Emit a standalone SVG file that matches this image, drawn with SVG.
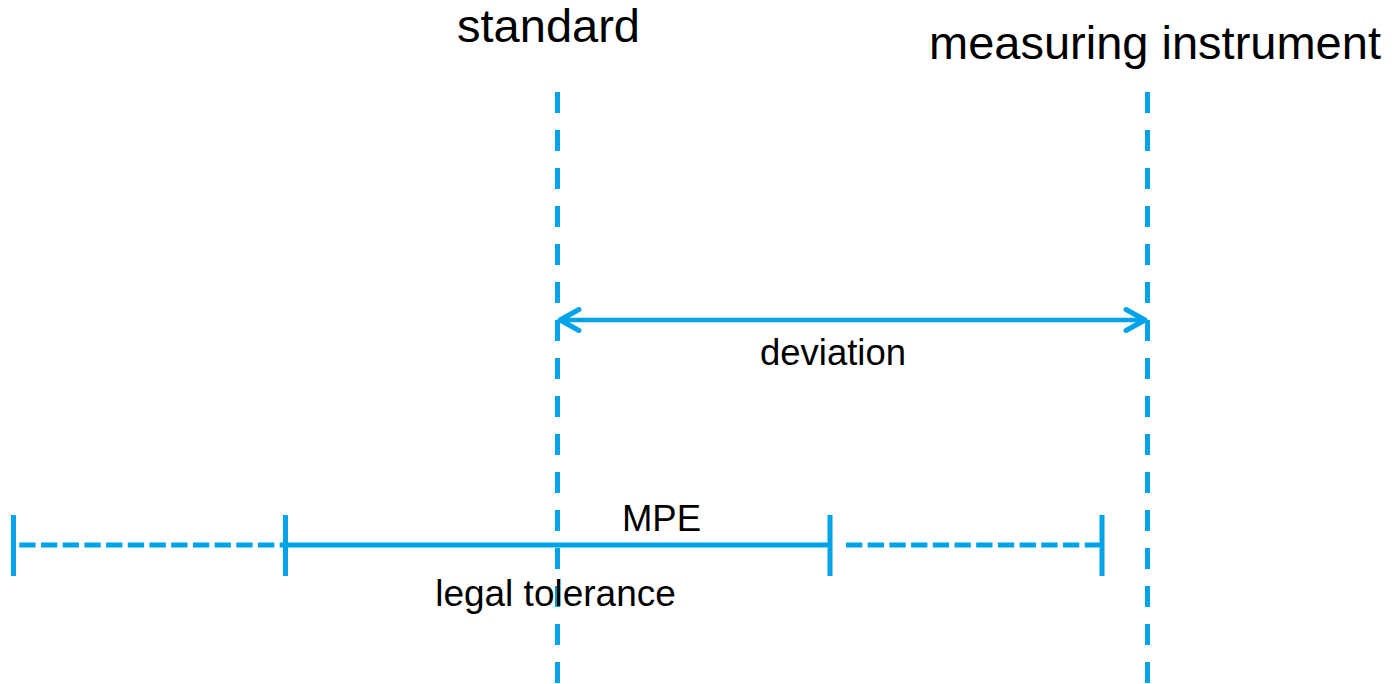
<svg xmlns="http://www.w3.org/2000/svg" width="1394" height="684" viewBox="0 0 1394 684">
<style>
.t{font-family:"Liberation Sans",Arial,sans-serif;fill:#000;text-anchor:middle}
.big{font-size:47px}
.small{font-size:36.5px}
.ln{stroke:#00A3E8;stroke-width:5;fill:none}
.vd{stroke-dasharray:21 17}
.hd{stroke-dasharray:16.3 5.4}
</style>
<rect width="1394" height="684" fill="#fff"/>
<g id="standard">
<line class="ln vd" x1="557.5" y1="92" x2="557.5" y2="684"/>
<text class="t big" x="548.5" y="42">standard</text>
</g>
<g id="measuring-instrument">
<line class="ln vd" x1="1147.5" y1="92" x2="1147.5" y2="684"/>
<text class="t big" x="1155" y="59">measuring instrument</text>
</g>
<g id="connectors">
<g id="deviation">
<line class="ln" x1="560" y1="320" x2="1145" y2="320" style="stroke-width:4.5"/>
<polyline class="ln" points="579,309.5 560,320 579,330.5" stroke-linecap="round" stroke-linejoin="round"/>
<polyline class="ln" points="1126,309.5 1145,320 1126,330.5" stroke-linecap="round" stroke-linejoin="round"/>
</g>
<g id="tolerance">
<line class="ln hd" x1="19.3" y1="545" x2="286" y2="545"/>
<line class="ln" x1="286" y1="545" x2="830" y2="545"/>
<line class="ln hd" x1="846" y1="545" x2="1102" y2="545"/>
<line class="ln" x1="13.5" y1="515" x2="13.5" y2="576"/>
<line class="ln" x1="285.5" y1="515" x2="285.5" y2="576"/>
<line class="ln" x1="830" y1="515" x2="830" y2="576"/>
<line class="ln" x1="1102" y1="515" x2="1102" y2="576"/>
</g>
</g>
<g id="labels">
<text class="t small" x="833" y="365">deviation</text>
<text class="t small" x="661.5" y="531">MPE</text>
<text class="t" x="555.5" y="606" style="font-size:37px">legal tolerance</text>
</g>
</svg>
